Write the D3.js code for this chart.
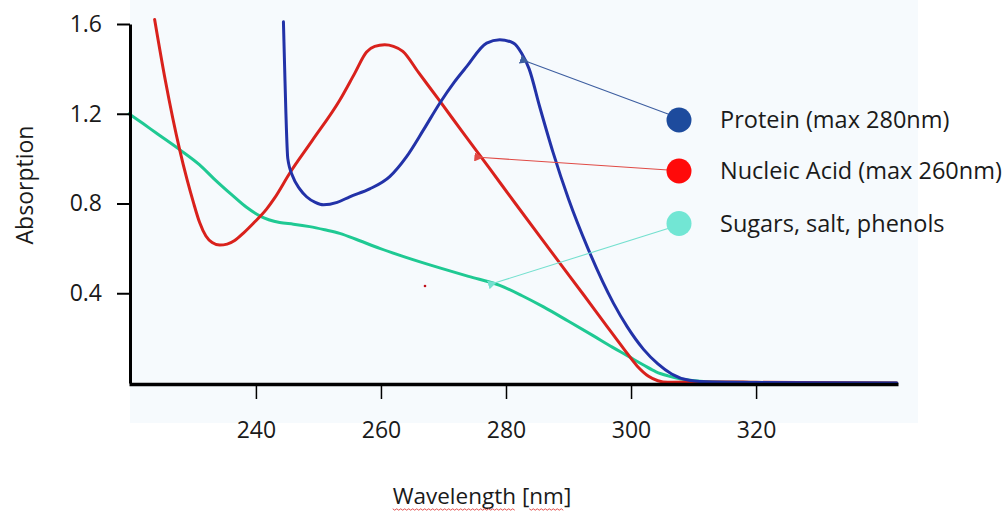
<!DOCTYPE html>
<html>
<head>
<meta charset="utf-8">
<script src="https://cdn.jsdelivr.net/npm/d3@7"></script>
<style>
  html, body { margin: 0; padding: 0; background: #ffffff; }
  svg { display: block; }
  text { font-family: "Open Sans", "Noto Sans", sans-serif; fill: #1a1a1a; }
</style>
</head>
<body>
<svg id="chart" width="1007" height="517"></svg>
<script>
// ---------------- data ----------------
const xTicks = [240, 260, 280, 300, 320];
const yTicks = [0.4, 0.8, 1.2, 1.6];

const seriesNames = ["Protein (max 280nm)", "Nucleic Acid (max 260nm)", "Sugars, salt, phenols"];

const proteinNm = [244.4, 244.6, 244.8, 245.1, 245.9, 247.0, 248.1, 249.5, 250.8, 253.0, 255.0, 258.2, 261.4, 264.1, 266.8, 269.4, 271.7, 273.7, 276.9, 279.0, 281.2, 282.5, 283.7, 285.4, 287.5, 290.0, 293.1, 297.2, 299.4, 302.0, 304.3, 306.5, 309.3, 313.0, 320.0, 342.5];
const proteinAbs = [1.61, 1.40, 1.20, 1.00, 0.92, 0.865, 0.83, 0.805, 0.794, 0.805, 0.83, 0.865, 0.92, 1.009, 1.128, 1.247, 1.34, 1.41, 1.515, 1.53, 1.515, 1.47, 1.40, 1.23, 1.03, 0.82, 0.60, 0.355, 0.25, 0.15, 0.085, 0.04, 0.012, 0.004, 0.002, 0.0];

const nucleicNm = [223.8, 225.5, 227.8, 229.0, 230.0, 231.0, 232.0, 233.0, 234.2, 235.4, 236.6, 238.0, 239.6, 241.7, 243.0, 245.4, 249.0, 253.4, 255.8, 257.7, 259.0, 260.6, 262.0, 263.5, 266.0, 269.4, 273.0, 277.4, 281.5, 285.5, 289.0, 292.5, 296.0, 298.9, 301.0, 302.8, 304.3, 305.9, 310.0, 315.0, 320.0, 342.5];
const nucleicAbs = [1.62, 1.35, 1.04, 0.905, 0.805, 0.715, 0.655, 0.626, 0.615, 0.619, 0.635, 0.668, 0.712, 0.775, 0.825, 0.935, 1.08, 1.26, 1.38, 1.475, 1.50, 1.507, 1.50, 1.478, 1.384, 1.257, 1.12, 0.955, 0.80, 0.65, 0.52, 0.39, 0.258, 0.15, 0.075, 0.03, 0.01, 0.003, 0.004, 0.005, 0.003, 0.0];

const sugarNm = [219.7, 222.0, 224.0, 227.8, 231.0, 233.3, 236.3, 238.5, 240.6, 243.8, 246.0, 248.6, 251.0, 253.4, 256.5, 259.8, 264.0, 269.4, 274.0, 279.0, 282.5, 286.0, 290.0, 294.0, 297.0, 299.4, 302.0, 304.0, 305.9, 308.0, 311.0, 316.6, 342.4];
const sugarAbs = [1.20, 1.155, 1.115, 1.04, 0.972, 0.91, 0.835, 0.783, 0.745, 0.715, 0.708, 0.697, 0.683, 0.667, 0.635, 0.60, 0.56, 0.513, 0.475, 0.435, 0.39, 0.339, 0.275, 0.21, 0.16, 0.122, 0.08, 0.05, 0.032, 0.018, 0.008, 0.003, 0.0];

// ---------------- layout ----------------
const svg = d3.select("#chart");
const x = d3.scaleLinear().domain([219.7, 342.7]).range([129, 898]);
const y = d3.scaleLinear().domain([0, 1.6]).range([383, 24]);

const lineColors = ["#2232a8", "#d9211c", "#1fc993"];
const dotColors = ["#1d4b9d", "#ff0a0a", "#72e6d4"];
const arrowColors = ["#3d5ea0", "#e04a45", "#74e0cf"];

// faint background tint of the plot image
svg.append("rect").attr("x", 130).attr("y", 0).attr("width", 788).attr("height", 423)
  .attr("fill", "#f6fafd");

// ---------------- curves ----------------
const line = d3.line()
  .x(d => x(d[0])).y(d => y(d[1]))
  .curve(d3.curveMonotoneX);

const series = [
  d3.zip(proteinNm, proteinAbs),
  d3.zip(nucleicNm, nucleicAbs),
  d3.zip(sugarNm, sugarAbs)
];

// draw order: sugars, nucleic, protein
[2, 1, 0].forEach(i => {
  svg.append("path").datum(series[i])
    .attr("d", line)
    .attr("fill", "none")
    .attr("stroke", lineColors[i])
    .attr("stroke-width", 3)
    .attr("stroke-linejoin", "round")
    .attr("stroke-linecap", "round");
});

// ---------------- axes ----------------
const yAxis = d3.axisLeft(y).tickValues(yTicks).tickFormat(d3.format(".1f"))
  .tickSize(13).tickSizeOuter(0).tickPadding(15);
const gy = svg.append("g").attr("transform", "translate(130,0)").call(yAxis);
gy.select(".domain").attr("stroke", "#000").attr("stroke-width", 3);
gy.selectAll(".tick line").attr("stroke", "#000").attr("stroke-width", 2);
gy.selectAll(".tick text").attr("font-size", 23).attr("font-family", "Open Sans").attr("fill", "#1a1a1a");

const xAxis = d3.axisBottom(x).tickValues(xTicks).tickFormat(d3.format("d"))
  .tickSize(15).tickSizeOuter(0).tickPadding(23);
const gx = svg.append("g").attr("transform", "translate(0,384)").call(xAxis);
gx.select(".domain").attr("stroke", "#000").attr("stroke-width", 3.5);
gx.selectAll(".tick line").attr("stroke", "#000").attr("stroke-width", 1.5);
gx.selectAll(".tick text").attr("font-size", 23).attr("font-family", "Open Sans").attr("fill", "#1a1a1a");

// ---------------- titles ----------------
svg.append("text")
  .attr("transform", "translate(33,185) rotate(-90)")
  .attr("text-anchor", "middle")
  .attr("font-size", 23)
  .text("Absorption");

const xt = svg.append("text")
  .attr("x", 482).attr("y", 504)
  .attr("text-anchor", "middle")
  .attr("font-size", 22.5);
xt.append("tspan").text("Wavelength");
xt.append("tspan").text(" [");
xt.append("tspan").text("nm");
xt.append("tspan").text("]");

// red wavy spell-check underline
const xtNode = xt.node();
function wavy(x0, x1, yy) {
  const pts = [];
  let k = 0;
  for (let xx = x0; xx <= x1; xx += 2, k++) pts.push([xx, yy + (k % 2 ? 1.2 : -0.2)]);
  return d3.line()(pts);
}
try {
  const s1 = xtNode.getStartPositionOfChar(0).x;
  const e1 = xtNode.getEndPositionOfChar(9).x;
  const s2 = xtNode.getStartPositionOfChar(12).x;
  const e2 = xtNode.getEndPositionOfChar(13).x;
  [[s1, e1], [s2, e2]].forEach(([a, b]) => {
    svg.append("path").attr("d", wavy(a, b, 509))
      .attr("fill", "none").attr("stroke", "#e2524f").attr("stroke-width", 1);
  });
} catch (e) {}

// stray red dot in the reference image
svg.append("circle").attr("cx", 425).attr("cy", 286).attr("r", 1.3).attr("fill", "#c0101a");

// ---------------- legend with arrows ----------------
const defs = svg.append("defs");
arrowColors.forEach((c, i) => {
  defs.append("marker").attr("id", "arr" + i)
    .attr("viewBox", "0 0 10 10").attr("refX", 1).attr("refY", 5)
    .attr("markerWidth", 9).attr("markerHeight", 9)
    .attr("markerUnits", "userSpaceOnUse")
    .attr("orient", "auto-start-reverse")
    .append("path").attr("d", "M10,0 L0,5 L10,10 Z").attr("fill", c);
});

const legendY = [120, 171, 223.5];
const arrowTips = [[528, 62], [482.5, 157.5], [496, 282.5]];
const legX = 679;

seriesNames.forEach((name, i) => {
  svg.append("line")
    .attr("x1", arrowTips[i][0]).attr("y1", arrowTips[i][1])
    .attr("x2", legX - 11).attr("y2", legendY[i] - (i === 0 ? 6 : i === 1 ? 1 : -5))
    .attr("stroke", arrowColors[i]).attr("stroke-width", 1.1)
    .attr("marker-start", "url(#arr" + i + ")");
  svg.append("circle").attr("cx", legX).attr("cy", legendY[i]).attr("r", 12.5)
    .attr("fill", dotColors[i]);
  svg.append("text").attr("x", 720).attr("y", legendY[i] + 8)
    .attr("font-size", 23.5)
    .text(name);
});
</script>
</body>
</html>
